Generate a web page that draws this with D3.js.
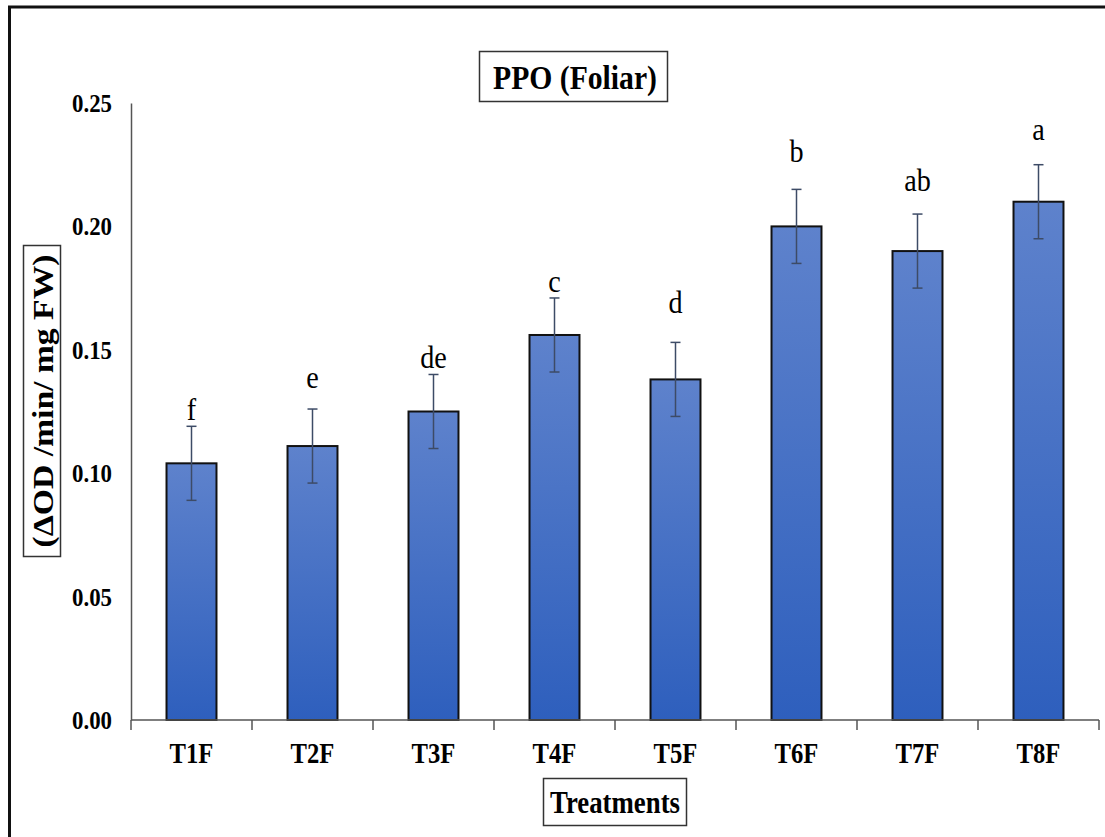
<!DOCTYPE html>
<html>
<head>
<meta charset="utf-8">
<script src="https://cdn.jsdelivr.net/npm/d3@7/dist/d3.min.js"></script>
<style>
  html, body { margin: 0; padding: 0; background: #fff; }
  svg { display: block; }
  text { font-family: "Liberation Serif", "Times New Roman", serif; fill: #000; }
</style>
</head>
<body>
<svg id="chart" width="1105" height="837"></svg>
<script>
// PPO activity in foliar treatments
const treatments = ["T1F", "T2F", "T3F", "T4F", "T5F", "T6F", "T7F", "T8F"];
const ppoValues  = [0.104, 0.111, 0.125, 0.156, 0.138, 0.200, 0.190, 0.210];
const ppoErrors  = [0.015, 0.015, 0.015, 0.015, 0.015, 0.015, 0.015, 0.015];
const sigLetters = ["f", "e", "de", "c", "d", "b", "ab", "a"];
// level (in axis units) of each letter's baseline
const letterLevels = [0.1215, 0.1345, 0.1425, 0.1735, 0.165, 0.226, 0.2145, 0.235];
const yTicks     = [0.00, 0.05, 0.10, 0.15, 0.20, 0.25];

const svg = d3.select("#chart");
const margin = { left: 131, right: 1099, top: 103, bottom: 720 };

// squeeze a text element to a given width
function fitWidth(sel, w) {
  sel.attr("textLength", w).attr("lengthAdjust", "spacingAndGlyphs");
}
function condense(sel, factor) {
  sel.each(function () {
    const len = this.getComputedTextLength();
    d3.select(this).attr("textLength", len * factor).attr("lengthAdjust", "spacingAndGlyphs");
  });
}

// outer frame
svg.append("path")
  .attr("d", "M9.5,900 L9.5,7 L1200,7")
  .attr("fill", "none")
  .attr("stroke", "#111")
  .attr("stroke-width", 3);

const x = d3.scaleBand()
  .domain(treatments)
  .range([margin.left, margin.right])
  .paddingInner(0.587)
  .paddingOuter(0.2935);

const y = d3.scaleLinear()
  .domain([0, 0.25])
  .range([margin.bottom, margin.top]);

// bar gradient
const defs = svg.append("defs");
const grad = defs.append("linearGradient")
  .attr("id", "barFill")
  .attr("x1", 0).attr("y1", 0).attr("x2", 0).attr("y2", 1);
grad.append("stop").attr("offset", "0%").attr("stop-color", "#5e82cc");
grad.append("stop").attr("offset", "100%").attr("stop-color", "#2e5fbd");

// y axis (line and labels only)
const yAxis = svg.append("g")
  .attr("transform", `translate(${margin.left},0)`)
  .call(d3.axisLeft(y).tickValues(yTicks).tickFormat(d3.format(".2f")).tickSize(0).tickPadding(19));
yAxis.select(".domain").attr("stroke", "#555").attr("stroke-width", 1.5);
yAxis.selectAll(".tick text")
  .style("font-family", "'Liberation Serif', serif")
  .style("font-weight", "bold")
  .style("font-size", "26px")
  .attr("fill", "#000")
  .attr("dy", "0.33em")
  .call(fitWidth, 40);

// bars
svg.append("g").selectAll("rect")
  .data(treatments)
  .join("rect")
  .attr("x", d => x(d))
  .attr("y", (d, i) => y(ppoValues[i]))
  .attr("width", x.bandwidth())
  .attr("height", (d, i) => y(0) - y(ppoValues[i]))
  .attr("fill", "url(#barFill)")
  .attr("stroke", "#111")
  .attr("stroke-width", 2);

// x axis with boundary ticks
const step = x.step();
const boundaries = d3.range(treatments.length + 1).map(i => margin.left + i * step);
const xg = svg.append("g");
xg.append("line")
  .attr("x1", margin.left).attr("x2", margin.right)
  .attr("y1", y(0)).attr("y2", y(0))
  .attr("stroke", "#555").attr("stroke-width", 1.5);
xg.selectAll("line.tk")
  .data(boundaries)
  .join("line")
  .attr("class", "tk")
  .attr("x1", d => d).attr("x2", d => d)
  .attr("y1", y(0)).attr("y2", y(0) + 10)
  .attr("stroke", "#555").attr("stroke-width", 1.5);
xg.selectAll("text")
  .data(treatments)
  .join("text")
  .attr("x", d => x(d) + x.bandwidth() / 2)
  .attr("y", 763)
  .attr("text-anchor", "middle")
  .style("font-weight", "bold")
  .style("font-size", "29px")
  .text(d => d)
  .call(condense, 0.85);

// error bars
const eb = svg.append("g").attr("stroke", "#3d4b66").attr("stroke-width", 1.5);
treatments.forEach((t, i) => {
  const cx = x(t) + x.bandwidth() / 2;
  const hi = y(ppoValues[i] + ppoErrors[i]);
  const lo = y(ppoValues[i] - ppoErrors[i]);
  eb.append("line").attr("x1", cx).attr("x2", cx).attr("y1", hi).attr("y2", lo);
  eb.append("line").attr("x1", cx - 5).attr("x2", cx + 5).attr("y1", hi).attr("y2", hi);
  eb.append("line").attr("x1", cx - 5).attr("x2", cx + 5).attr("y1", lo).attr("y2", lo);
});

// significance letters
svg.append("g").selectAll("text")
  .data(treatments)
  .join("text")
  .attr("x", d => x(d) + x.bandwidth() / 2)
  .attr("y", (d, i) => y(letterLevels[i]))
  .attr("text-anchor", "middle")
  .style("font-size", "32px")
  .text((d, i) => sigLetters[i])
  .call(condense, 0.88);

// title in a box
svg.append("rect")
  .attr("x", 479.5).attr("y", 51.5).attr("width", 188).attr("height", 50)
  .attr("fill", "#fff").attr("stroke", "#333").attr("stroke-width", 1.5);
svg.append("text")
  .attr("x", 575).attr("y", 89)
  .attr("text-anchor", "middle")
  .style("font-weight", "bold")
  .style("font-size", "33px")
  .text("PPO (Foliar)")
  .call(fitWidth, 164);

// y axis title in a box
svg.append("rect")
  .attr("x", 23.5).attr("y", 245.5).attr("width", 37).attr("height", 311)
  .attr("fill", "#fff").attr("stroke", "#333").attr("stroke-width", 1.5);
svg.append("text")
  .attr("transform", "translate(53,401) rotate(-90)")
  .attr("text-anchor", "middle")
  .style("font-weight", "bold")
  .style("font-size", "30px")
  .text("(ΔOD /min/ mg FW)")
  .call(fitWidth, 293);

// x axis title in a box
svg.append("rect")
  .attr("x", 543.5).attr("y", 778.5).attr("width", 143).attr("height", 47)
  .attr("fill", "#fff").attr("stroke", "#333").attr("stroke-width", 1.5);
svg.append("text")
  .attr("x", 615).attr("y", 813)
  .attr("text-anchor", "middle")
  .style("font-weight", "bold")
  .style("font-size", "31px")
  .text("Treatments")
  .call(fitWidth, 130);
</script>
</body>
</html>
